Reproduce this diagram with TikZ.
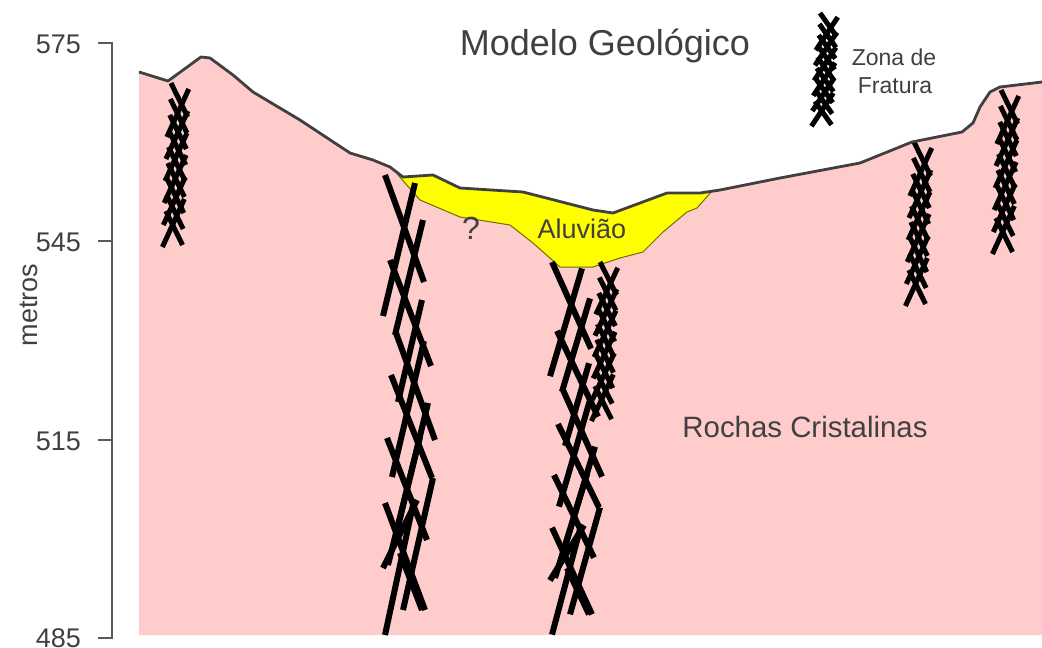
\documentclass[tikz,border=0pt]{standalone}
\usepackage{fontspec}
\setmainfont{Liberation Sans}
\begin{document}
\definecolor{rockpink}{RGB}{255,204,204}
\definecolor{alluvium}{RGB}{255,255,0}
\definecolor{alluvedge}{RGB}{110,110,0}
\definecolor{profgray}{RGB}{64,64,64}
\definecolor{txtgray}{RGB}{64,64,64}
\definecolor{axisgray}{RGB}{90,90,90}
% large braided fracture zone, local coords: u across, v down from the top
\newcommand{\bigfracture}{%
  \draw[fracline] (-23,0) -- (16,107);
  \draw[fracline] (7,8) -- (-25,141);
  \draw[fracline] (15,45) -- (-13,160);
  \draw[fracline] (-18,85) -- (23,191);
  \draw[fracline] (14,125) -- (-10,227);
  \draw[fracline] (-12,158) -- (27,265);
  \draw[fracline] (16,166) -- (-16,302);
  \draw[fracline] (-17,200) -- (24,303);
  \draw[fracline] (20,228) -- (-12,360);
  \draw[fracline] (12,262) -- (-20,390);
  \draw[fracline] (25,303) -- (-5,435);
  \draw[fracline] (-21,263) -- (19,365);
  \draw[fracline] (9,325) -- (-25,393);
  \draw[fracline] (-23,328) -- (17,435);
  \draw[fracline] (-8,378) -- (14,435);
  \draw[fracline] (5,330) -- (-23,460);
}
% narrow fracture zone, same local convention
\newcommand{\smallfracture}{%
  \foreach \k in {0,...,8}{%
    \pgfmathsetmacro\va{16*\k}\pgfmathsetmacro\vb{\va+34}%
    \draw[smallfrac] ({-9-0.04*\va},\va) -- ({9-0.04*\vb},\vb);}
  \foreach \k in {0,...,5}{%
    \pgfmathsetmacro\va{6+22*\k}\pgfmathsetmacro\vb{\va+48}%
    \draw[smallfrac] ({9-0.04*\va},\va) -- ({-11-0.04*\vb},\vb);}
}
\begin{tikzpicture}[x=1pt,y=-1pt,
  fracline/.style={line width=6pt,black},
  smallfrac/.style={line width=5pt,black},
  label/.style={inner sep=0pt,text=txtgray},
  axislabel/.style={inner sep=0pt,text=txtgray,font=\fontsize{27}{27}\selectfont,anchor=base east}]
\useasboundingbox (0,0) rectangle (1042,648);
\fill[white] (0,0) rectangle (1042,648);

% crystalline basement
\fill[rockpink] (139,72) -- (168,81) -- (201,57) -- (210,58) -- (233,75) -- (253,92)
  -- (300,120) -- (350,153) -- (373,160) -- (390,167) -- (403,177) -- (433,175)
  -- (460,188) -- (523,192) -- (593,210) -- (613,213) -- (667,193) -- (700,193)
  -- (720,190) -- (780,178) -- (860,163) -- (912,142) -- (962,132) -- (973,123)
  -- (980,107) -- (990,92) -- (1000,87) -- (1042,82) -- (1042,635) -- (139,635) -- cycle;

% alluvium
\filldraw[fill=alluvium,draw=alluvedge,line width=1pt]
  (398,175) -- (403,177) -- (433,175) -- (460,188) -- (523,192) -- (593,210)
  -- (613,213) -- (667,193) -- (700,193) -- (712,191)
  -- (697,208) -- (687,212) -- (663,232) -- (643,252) -- (620,258) -- (593,267)
  -- (560,267) -- (533,243) -- (510,225) -- (460,217) -- (420,200) -- cycle;

% fracture zones
\begin{scope}[shift={(408,175)}]\bigfracture\end{scope}
\begin{scope}[shift={(575,262)},yscale=0.81]\bigfracture\end{scope}
\begin{scope}[shift={(609,262)},yscale=0.97]\smallfracture\end{scope}
\begin{scope}[shift={(180,83)}]\smallfracture\end{scope}
\begin{scope}[shift={(923,142)}]\smallfracture\end{scope}
\begin{scope}[shift={(1010,90)}]\smallfracture\end{scope}
\begin{scope}[shift={(829,13)},yscale=0.69]\smallfracture\end{scope}

% ground surface
\draw[profgray,line width=2.8pt,line join=round]
  (139,72) -- (168,81) -- (201,57) -- (210,58) -- (233,75) -- (253,92)
  -- (300,120) -- (350,153) -- (373,160) -- (390,167) -- (403,177) -- (433,175)
  -- (460,188) -- (523,192) -- (593,210) -- (613,213) -- (667,193) -- (700,193)
  -- (720,190) -- (780,178) -- (860,163) -- (912,142) -- (962,132) -- (973,123)
  -- (980,107) -- (990,92) -- (1000,87) -- (1042,82);

% elevation axis
\draw[axisgray,line width=1.5pt] (98,43) -- (112,43) -- (112,638) -- (98,638);
\draw[axisgray,line width=1.5pt] (98,241) -- (112,241);
\draw[axisgray,line width=1.5pt] (98,440) -- (112,440);
\node[axislabel] (t575) at (81,53) {575};
\node[axislabel] (t545) at (81,251) {545};
\node[axislabel] (t515) at (81,450) {515};
\node[axislabel] (t485) at (81,647) {485};
\node[label,rotate=90,font=\fontsize{27}{27}\selectfont] (ylab) at (29,305) {metros};

% labels
\node[label,anchor=base,font=\fontsize{36}{36}\selectfont] (title) at (605,55) {Modelo Geológico};
\node[label,anchor=base,font=\fontsize{23}{23}\selectfont] (leg1) at (894,65) {Zona de};
\node[label,anchor=base,font=\fontsize{23}{23}\selectfont] (leg2) at (895,93) {Fratura};
\node[label,anchor=base,font=\fontsize{32}{32}\selectfont] (qmark) at (471,239) {?};
\node[label,anchor=base,font=\fontsize{27}{27}\selectfont] (aluv) at (582,238) {Aluvião};
\node[label,anchor=base,font=\fontsize{29.4}{29.4}\selectfont] (rock) at (805,437) {Rochas Cristalinas};
\end{tikzpicture}
\end{document}
